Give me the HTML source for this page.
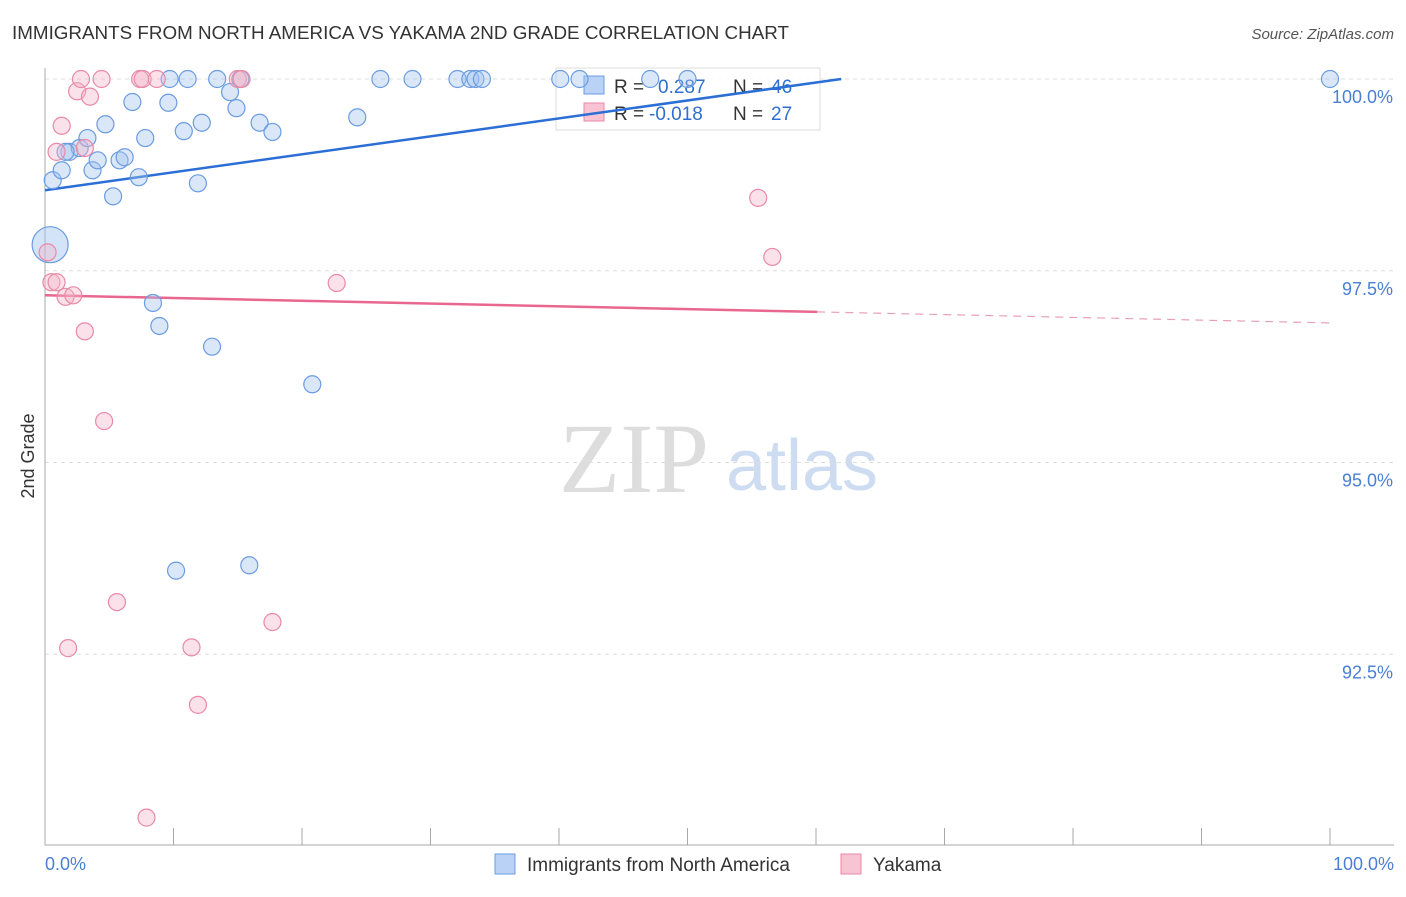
<!DOCTYPE html>
<html><head><meta charset="utf-8"><style>
body{margin:0;background:#fff;font-family:"Liberation Sans",sans-serif}
</style></head><body>
<svg width="1406" height="892" xmlns="http://www.w3.org/2000/svg" font-family="Liberation Sans, sans-serif">
<text x="12" y="39" font-size="18" fill="#333" textLength="777" lengthAdjust="spacingAndGlyphs">IMMIGRANTS FROM NORTH AMERICA VS YAKAMA 2ND GRADE CORRELATION CHART</text>
<text x="1394" y="39" font-size="15" fill="#555" font-style="italic" text-anchor="end">Source: ZipAtlas.com</text>
<text x="634" y="492" font-size="100" fill="#ddd" style="font-family:'Liberation Serif',serif" text-anchor="middle">ZIP</text>
<text x="802" y="490" font-size="72" fill="#cddcf0" text-anchor="middle">atlas</text>
<g id="grid"></g>
<line x1="45" y1="68" x2="45" y2="845" stroke="#aaa"/>
<line x1="45" y1="845" x2="1394" y2="845" stroke="#aaa"/>
<g id="ticks"></g>
<text transform="translate(34,456) rotate(-90)" font-size="18" fill="#333" text-anchor="middle">2nd Grade</text>
<text x="45" y="870" font-size="18" fill="#4a7fd4">0.0%</text>
<text x="1394" y="870" font-size="18" fill="#4a7fd4" text-anchor="end">100.0%</text>
<g>
<rect x="556" y="68" width="264" height="62" fill="#fff" fill-opacity="0.85" stroke="#ddd"/>
<rect x="584" y="76" width="20" height="18" fill="#b9d2f5" stroke="#6b9ce0"/>
<rect x="584" y="103" width="20" height="18" fill="#f8c4d3" stroke="#e88aa8"/>
<text x="614" y="93" font-size="19" fill="#333">R =</text>
<text x="658" y="93" font-size="19" fill="#2f6fd0">0.287</text>
<text x="733" y="93" font-size="19" fill="#333">N =</text>
<text x="771" y="93" font-size="19" fill="#2f6fd0">46</text>
<text x="614" y="120" font-size="19" fill="#333">R =</text>
<text x="649" y="120" font-size="19" fill="#2f6fd0">-0.018</text>
<text x="733" y="120" font-size="19" fill="#333">N =</text>
<text x="771" y="120" font-size="19" fill="#2f6fd0">27</text>
</g>
<g id="trend"></g>
<g id="pts"></g>
<g>
<rect x="495" y="854" width="20" height="20" fill="#b9d2f5" stroke="#6b9ce0"/>
<text x="527" y="871" font-size="19" fill="#333">Immigrants from North America</text>
<rect x="841" y="854" width="20" height="20" fill="#f8c4d3" stroke="#e88aa8"/>
<text x="873" y="871" font-size="19" fill="#333">Yakama</text>
</g>
</svg>
<script>
const blueX=[0.6,1.3,1.9,2.7,3.3,3.7,4.1,4.7,5.3,5.8,6.2,6.8,7.3,7.8,8.4,8.9,9.6,9.7,10.8,11.1,11.9,12.2,13.0,13.4,14.4,14.9,15.2,16.7,17.7,20.8,24.3,26.1,28.6,10.2,15.9,32.1,33.1,33.5,34.0,40.1,41.6,47.1,50.0,100,1.6];
const blueY=[98.68,98.81,99.05,99.10,99.23,98.81,98.94,99.41,98.47,98.94,98.98,99.70,98.72,99.23,97.08,96.78,99.69,100,99.32,100,98.64,99.43,96.51,100,99.83,99.62,100,99.43,99.31,96.02,99.50,100,100,93.59,93.66,100,100,100,100,100,100,100,100,100,99.05];
const pinkX=[0.2,0.5,0.9,1.6,2.2,3.1,4.6,0.9,1.3,2.5,2.8,3.5,4.4,3.1,7.4,7.6,8.7,15.0,15.3,22.7,5.6,1.8,11.4,17.7,11.9,7.9,55.5,56.6];
const pinkY=[97.74,97.35,97.35,97.16,97.18,96.71,95.54,99.05,99.39,99.84,100,99.77,100,99.10,100,100,100,100,100,97.34,93.18,92.58,92.59,92.92,91.84,90.37,98.45,97.68];
const yTicks=[100,97.5,95,92.5];
const yTickLabels=["100.0%","97.5%","95.0%","92.5%"];
const NS="http://www.w3.org/2000/svg";
const xs=v=>45+v*12.85, ys=v=>79+(100-v)*76.7;
function mk(t,a,p){const e=document.createElementNS(NS,t);for(const k in a)e.setAttribute(k,a[k]);p.appendChild(e);return e;}
const grid=document.getElementById('grid');
yTicks.forEach((t,i)=>{
 const l=mk('line',{x1:45,x2:1394,y1:ys(t),y2:ys(t),stroke:'#ddd','stroke-dasharray':'4,4'},grid);
 
 
 const tx=mk('text',{x:1393,y:ys(t)+24,'font-size':18,fill:'#4a7fd4','text-anchor':'end'},grid);
 tx.textContent=yTickLabels[i];
 
 
});
const tk=document.getElementById('ticks');
for(let i=0;i<=10;i++){const l=mk('line',{x1:xs(i*10),x2:xs(i*10),y1:828,y2:845,stroke:'#aaa'},tk);
 
 }
const tr=document.getElementById('trend');
const bI=98.55,bS=0.0234,pI=97.18,pS=-0.0036;
const bEnd=Math.min(100,(100-bI)/bS);
let l1=mk('line',{x1:xs(0),y1:ys(bI),x2:xs(bEnd),y2:ys(bI+bS*bEnd),stroke:'#2b6fd6','stroke-width':2.5},tr);


let l2=mk('line',{x1:xs(0),y1:ys(pI),x2:xs(60.1),y2:ys(pI+pS*60.1),stroke:'#e8678f','stroke-width':2.5},tr);


let l3=mk('line',{x1:xs(60.1),y1:ys(pI+pS*60.1),x2:xs(100),y2:ys(pI+pS*100),stroke:'#e8a0b8','stroke-width':1.2,'stroke-dasharray':'8,6'},tr);


const pts=document.getElementById('pts');
let big=mk('circle',{cx:xs(0.4),cy:ys(97.84),r:18,fill:'rgba(160,195,240,0.45)',stroke:'#6b9ce0','stroke-width':1.2},pts);


blueX.forEach((x,i)=>{const c=mk('circle',{cx:xs(x),cy:ys(blueY[i]),r:8.5,fill:'rgba(160,195,240,0.4)',stroke:'#6b9ce0','stroke-width':1.2},pts);
 
 });
pinkX.forEach((x,i)=>{const c=mk('circle',{cx:xs(x),cy:ys(pinkY[i]),r:8.5,fill:'rgba(245,180,200,0.4)',stroke:'#e88aa8','stroke-width':1.2},pts);
 
 });
</script>
</body></html>
